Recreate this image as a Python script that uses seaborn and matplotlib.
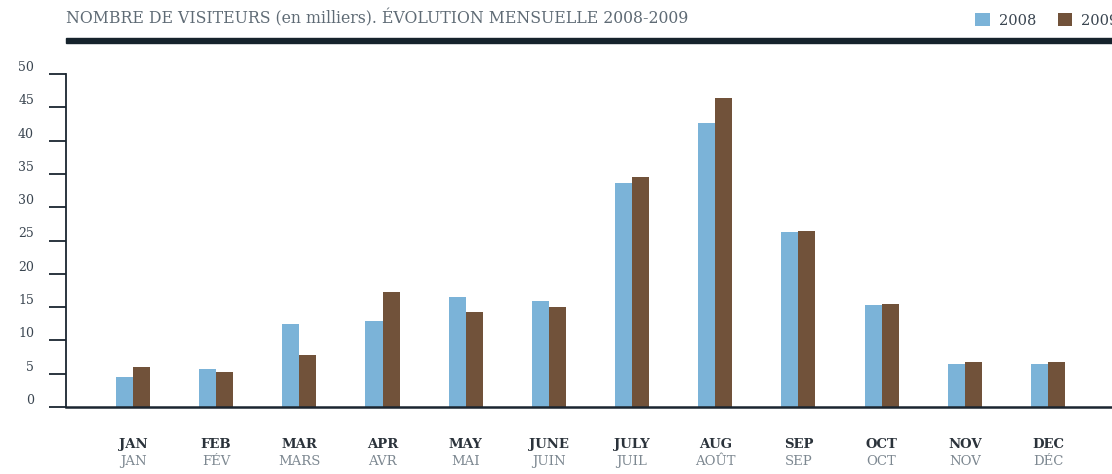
import numpy as np
import pandas as pd
import seaborn as sns
import matplotlib.pyplot as plt
from matplotlib.patches import Rectangle
from matplotlib.transforms import blended_transform_factory

# donnees (milliers de visiteurs)
mois_en = ['JAN', 'FEB', 'MAR', 'APR', 'MAY', 'JUNE', 'JULY', 'AUG', 'SEP', 'OCT', 'NOV', 'DEC']
mois_fr = ['JAN', 'FÉV', 'MARS', 'AVR', 'MAI', 'JUIN', 'JUIL', 'AOÛT', 'SEP', 'OCT', 'NOV', 'DÉC']
visiteurs_2008 = [4.5, 5.7, 12.5, 12.9, 16.5, 15.9, 33.6, 42.6, 26.3, 15.3, 6.5, 6.5]
visiteurs_2009 = [6.0, 5.3, 7.8, 17.3, 14.3, 15.0, 34.5, 46.4, 26.4, 15.5, 6.8, 6.8]
annees = ['2008', '2009']
y_ticks = [0, 5, 10, 15, 20, 25, 30, 35, 40, 45, 50]

df = pd.DataFrame({
    'mois': mois_en * 2,
    'annee': [annees[0]] * 12 + [annees[1]] * 12,
    'visiteurs': visiteurs_2008 + visiteurs_2009,
})

sns.set_style('white')
plt.rcParams['font.family'] = ['DejaVu Serif']

W, H = 1112, 474
fig = plt.figure(figsize=(W / 100, H / 100), dpi=100)
ax = fig.add_axes([66 / W, 1 - 407 / H, 1 - 66 / W, (407 - 74) / H])

dark = '#1a2530'
sns.barplot(data=df, x='mois', y='visiteurs', hue='annee', order=mois_en,
            palette=['#7bb3d8', '#71523a'], width=0.41, saturation=1,
            linewidth=0, ax=ax)

ax.set_ylim(0, 50)
ax.set_xlim(-0.805, 11.77)
ax.set_xlabel('')
ax.set_ylabel('')
ax.set_yticks(y_ticks)
ax.set_yticklabels([str(v) for v in y_ticks], fontsize=9, color='#3a4550', va='bottom')
ax.tick_params(axis='y', direction='out', length=12, width=1.3, color=dark, pad=11, left=True)
ax.tick_params(axis='x', length=0, pad=22)
ax.set_xticks(range(len(mois_en)))
ax.set_xticklabels(mois_en, fontsize=9.5, fontweight='bold', color='#2b333b')

sns.despine(ax=ax)
ax.spines['left'].set_color(dark)
ax.spines['left'].set_linewidth(1.3)
ax.spines['bottom'].set_color(dark)
ax.spines['bottom'].set_linewidth(1.8)

# libelles francais sous les mois
trans = blended_transform_factory(ax.transData, ax.transAxes)
for i, fr in enumerate(mois_fr):
    ax.text(i, -0.165, fr, transform=trans, ha='center', va='center',
            fontsize=9.5, color='#7d8891')

# titre + filet
fig.text(66 / W, 1 - 18 / H, 'NOMBRE DE VISITEURS (en milliers). ÉVOLUTION MENSUELLE 2008-2009',
         fontsize=11.3, color='#5f6b75', va='center', ha='left')
fig.patches.append(Rectangle((66 / W, 1 - 43 / H), 1 - 66 / W, 5 / H,
                             transform=fig.transFigure, color='#16232c'))

sns.move_legend(ax, 'upper left', bbox_to_anchor=(968 / W, 1 - 6 / H),
                bbox_transform=fig.transFigure, ncol=2, frameon=False, title=None,
                fontsize=10.5, handlelength=1.0, handleheight=1.0, handletextpad=0.6,
                columnspacing=1.5, borderpad=0, labelcolor='#3a4550')

fig.savefig('out.png', dpi=100, facecolor='white')
